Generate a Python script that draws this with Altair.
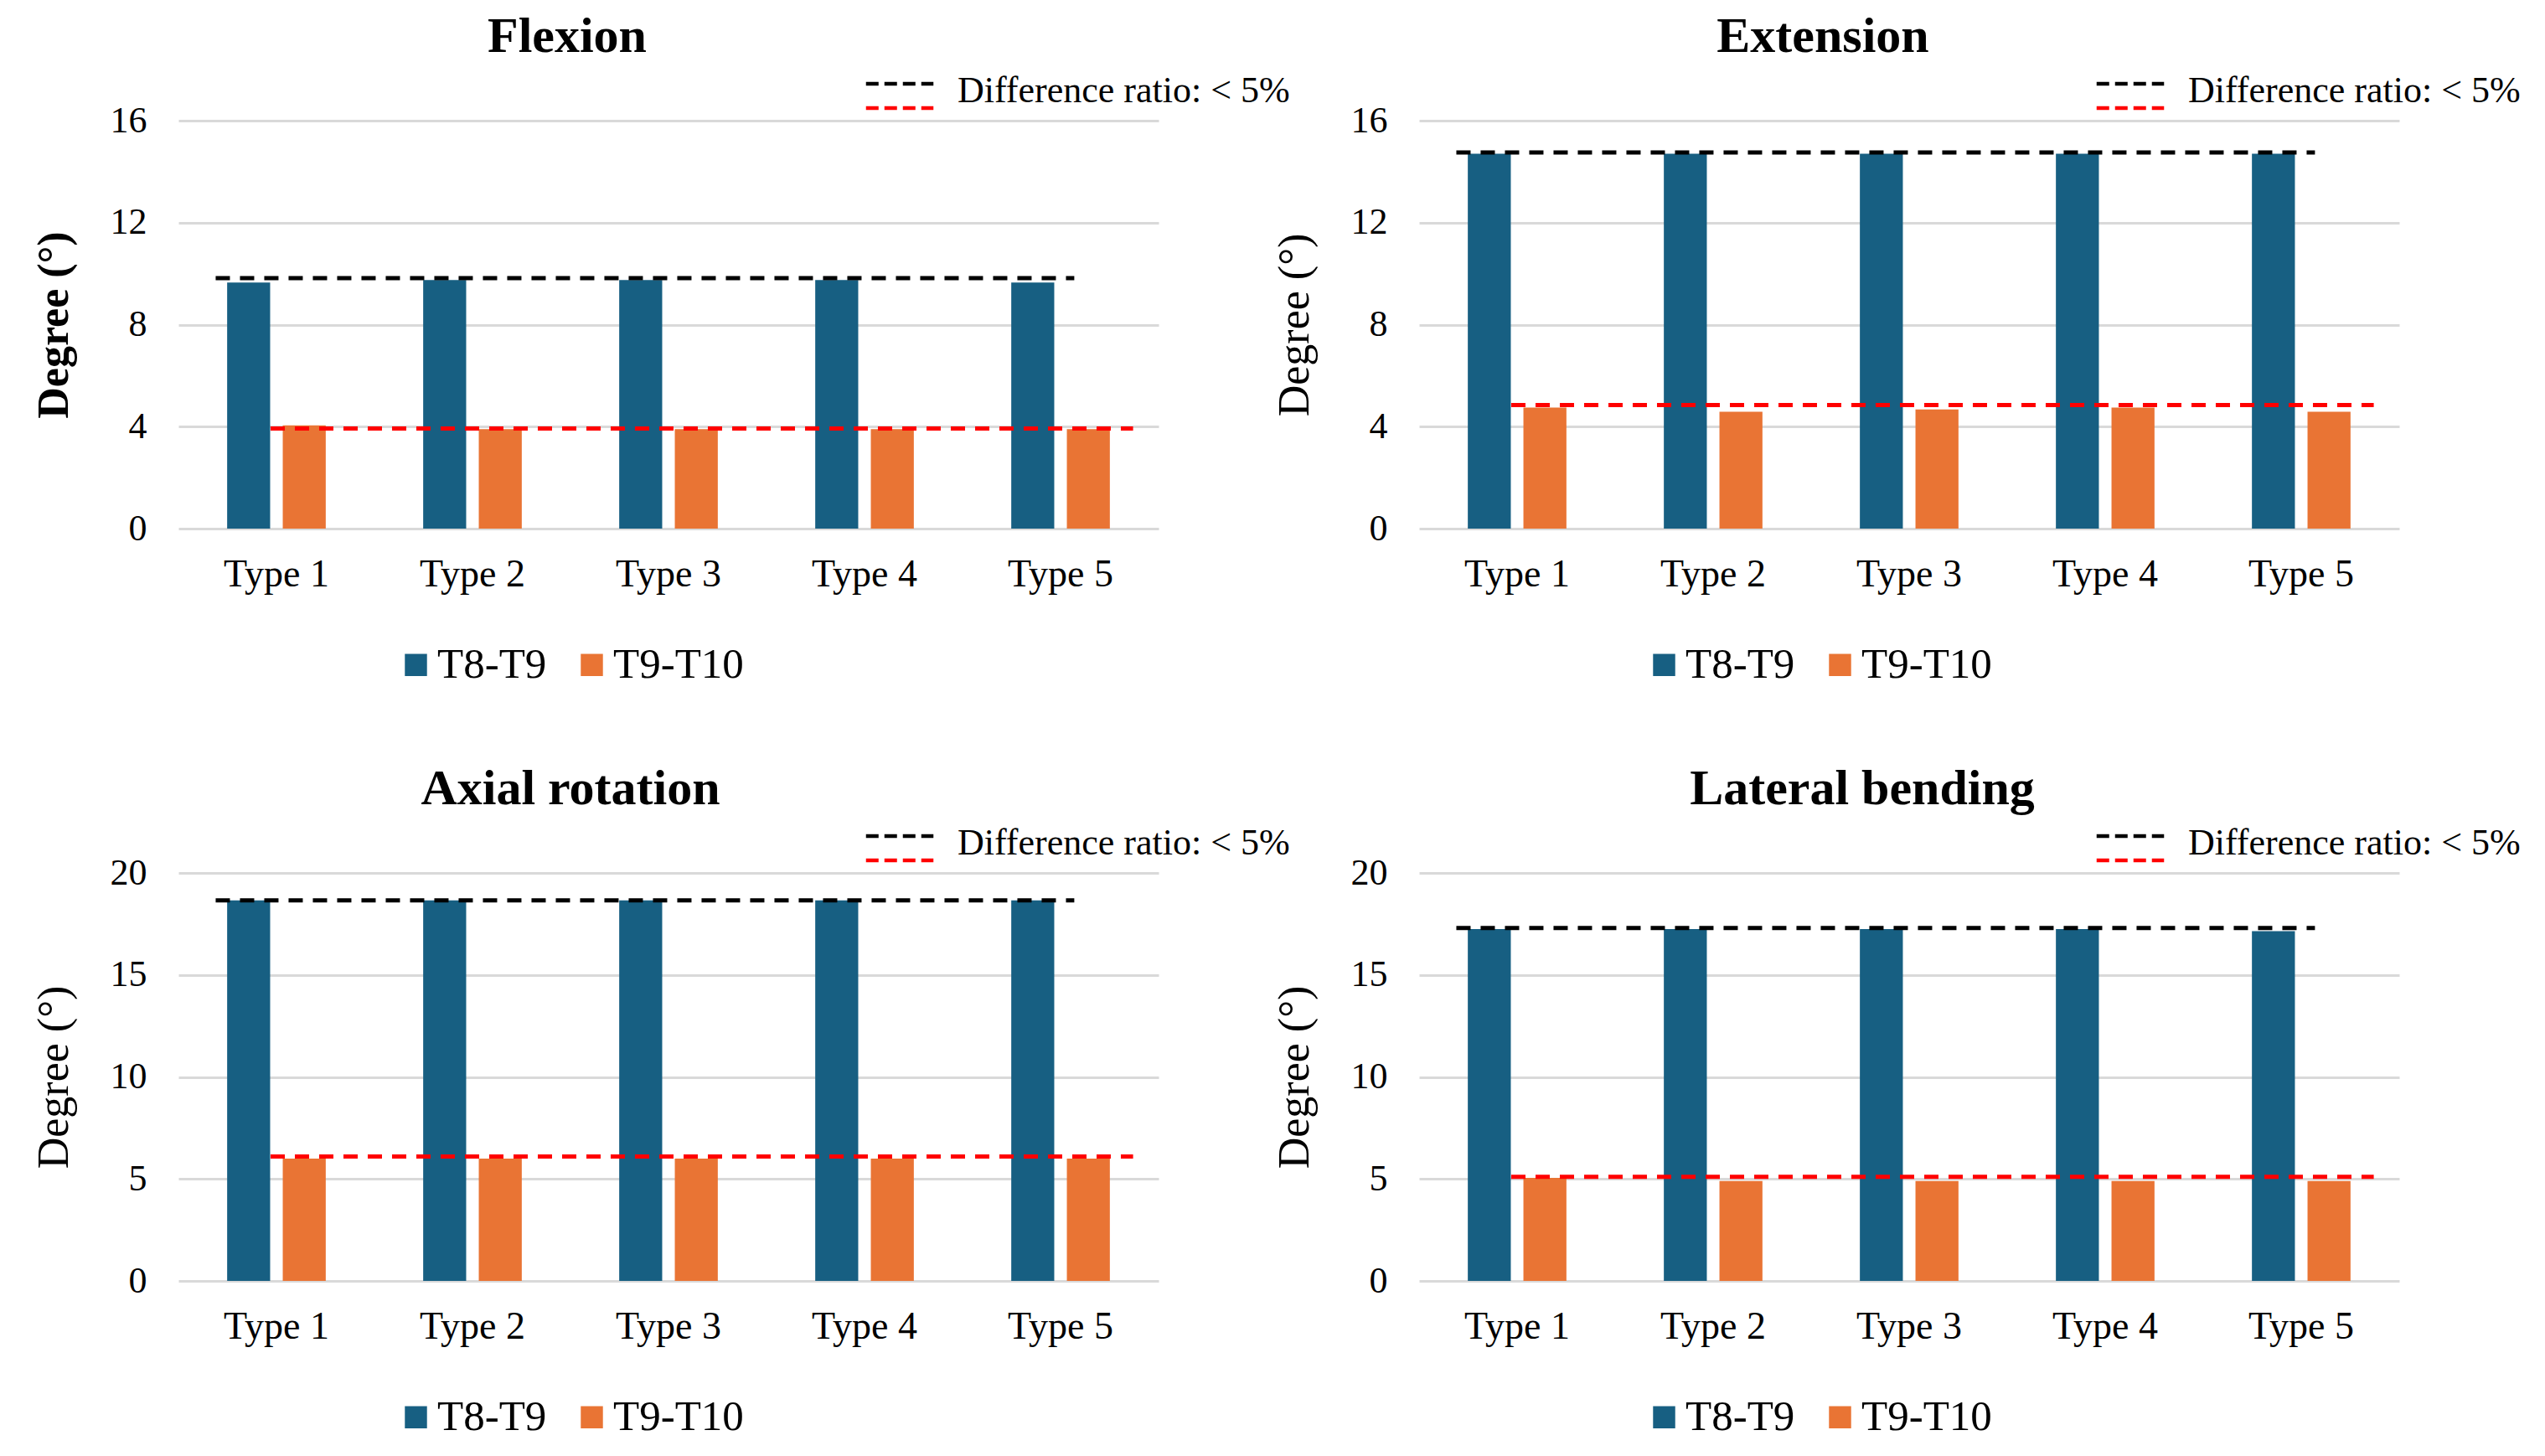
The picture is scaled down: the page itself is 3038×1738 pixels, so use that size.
import altair as alt
import pandas as pd

types = ["Type 1", "Type 2", "Type 3", "Type 4", "Type 5"]
series = ["T8-T9", "T9-T10"]
panel_names = ["Flexion", "Extension", "Axial rotation", "Lateral bending"]

flex_t8 = [9.65, 9.75, 9.75, 9.75, 9.65]
flex_t9 = [4.05, 3.9, 3.9, 3.9, 3.9]
ext_t8 = [14.7, 14.7, 14.7, 14.7, 14.7]
ext_t9 = [4.75, 4.58, 4.67, 4.75, 4.58]
axial_t8 = [18.65, 18.65, 18.65, 18.65, 18.65]
axial_t9 = [6.0, 6.0, 6.0, 6.0, 6.0]
lat_t8 = [17.25, 17.25, 17.25, 17.25, 17.15]
lat_t9 = [5.05, 4.9, 4.9, 4.9, 4.9]

ref_upper = [9.82, 14.75, 18.65, 17.3]
ref_lower = [3.93, 4.85, 6.1, 5.1]

y_max = [16, 16, 20, 20]
y_ticks = [[0, 4, 8, 12, 16], [0, 4, 8, 12, 16], [0, 5, 10, 15, 20], [0, 5, 10, 15, 20]]
diff_label = "Difference ratio: < 5%"

BLUE = "#175F82"
ORANGE = "#E97434"
FONT = "Liberation Serif"
W, H = 1170, 487


def panel(i, t8, t9, title_dx, ytitle_bold, dl_x, bl_x):
    name = panel_names[i]
    bars = pd.DataFrame({
        "type": types * 2,
        "series": [series[0]] * 5 + [series[1]] * 5,
        "value": t8 + t9,
    })
    xscale = alt.Scale(domain=types, paddingInner=0, paddingOuter=0)
    yscale = alt.Scale(domain=[0, y_max[i]])
    yaxis = alt.Axis(
        values=y_ticks[i], title="Degree (°)", grid=True, gridColor="#D9D9D9",
        gridWidth=3, domain=False, ticks=False, labelFont=FONT, labelFontSize=44,
        labelColor="black", labelPadding=38, titleFont=FONT, titleFontSize=52,
        titleFontWeight="bold" if ytitle_bold else "normal", titleColor="black",
        titlePadding=40,
    )
    xaxis = alt.Axis(
        title=None, labelAngle=0, domain=False, ticks=False, grid=False,
        labelFont=FONT, labelFontSize=46, labelColor="black", labelPadding=32,
    )
    bar = alt.Chart(bars).mark_bar().encode(
        x=alt.X("type:N", scale=xscale, axis=xaxis),
        xOffset=alt.XOffset(
            "series:N",
            scale=alt.Scale(domain=series, paddingInner=0.227, paddingOuter=0.876),
        ),
        y=alt.Y("value:Q", scale=yscale, axis=yaxis),
        fill=alt.Fill(
            "series:N",
            scale=alt.Scale(domain=series, range=[BLUE, ORANGE]),
            legend=alt.Legend(
                title=None, orient="none", legendX=bl_x, legendY=624,
                direction="horizontal", symbolType="square", symbolSize=700,
                symbolStrokeWidth=0, labelFont=FONT, labelFontSize=51,
                labelColor="black", labelOffset=0, labelLimit=600,
                columnPadding=28, padding=0,
            ),
        ),
    )
    up = pd.DataFrame({"start": [types[0]], "end": [types[-1]], "value": [ref_upper[i]], "line": ["upper"]})
    lo = pd.DataFrame({"start": [types[0]], "end": [types[-1]], "value": [ref_lower[i]], "line": ["lower"]})
    stroke = alt.Stroke(
        "line:N",
        scale=alt.Scale(domain=["upper", "lower"], range=["black", "#FF0000"]),
        legend=alt.Legend(
            title=diff_label, titleOrient="right", titleAnchor="middle",
            titleBaseline="middle", titleFont=FONT, titleFontSize=44,
            titleFontWeight="normal", titleColor="black", titlePadding=20,
            titleLimit=2000,
            orient="none", legendX=dl_x, legendY=-64, labelExpr="''",
            labelFontSize=1, labelOffset=0, symbolType="M-2.3,0H2.3",
            symbolSize=1225, symbolStrokeWidth=4.5, symbolDash=[15, 7],
            rowPadding=0, padding=0,
        ),
    )

    def rule(df, b0, b1):
        return alt.Chart(df).mark_rule(strokeDash=[17, 12], strokeWidth=5).encode(
            x=alt.X("start:N", scale=xscale, bandPosition=b0, axis=xaxis),
            x2=alt.X2("end:N", bandPosition=b1),
            y=alt.Y("value:Q", scale=yscale),
            stroke=stroke,
        )

    layered = alt.layer(bar, rule(up, 0.19, 0.57), rule(lo, 0.47, 0.87)).properties(
        width=W, height=H,
        title=alt.TitleParams(
            name, font=FONT, fontSize=60, fontWeight="bold", color="black",
            anchor="middle", dx=title_dx, offset=5,
        ),
    )
    return layered


p1 = panel(0, flex_t8, flex_t9, -121, True, 841, 258)
p2 = panel(1, ext_t8, ext_t9, -103, False, 829, 267)
p3 = panel(2, axial_t8, axial_t9, -117, False, 841, 258)
p4 = panel(3, lat_t8, lat_t9, -56, False, 829, 267)

top = alt.hconcat(p1, p2, spacing=-21).resolve_scale(fill="independent", stroke="independent")
bottom = alt.hconcat(p3, p4, spacing=-21).resolve_scale(fill="independent", stroke="independent")

chart = alt.vconcat(top, bottom, spacing=93).resolve_scale(
    fill="independent", stroke="independent"
).properties(
    padding={"left": 30, "top": 6, "right": 0, "bottom": 0},
    background="white",
).configure_view(stroke=None).configure_legend(strokeColor=None)

chart.save("out.html", embed_options={"renderer": "svg", "actions": False})
